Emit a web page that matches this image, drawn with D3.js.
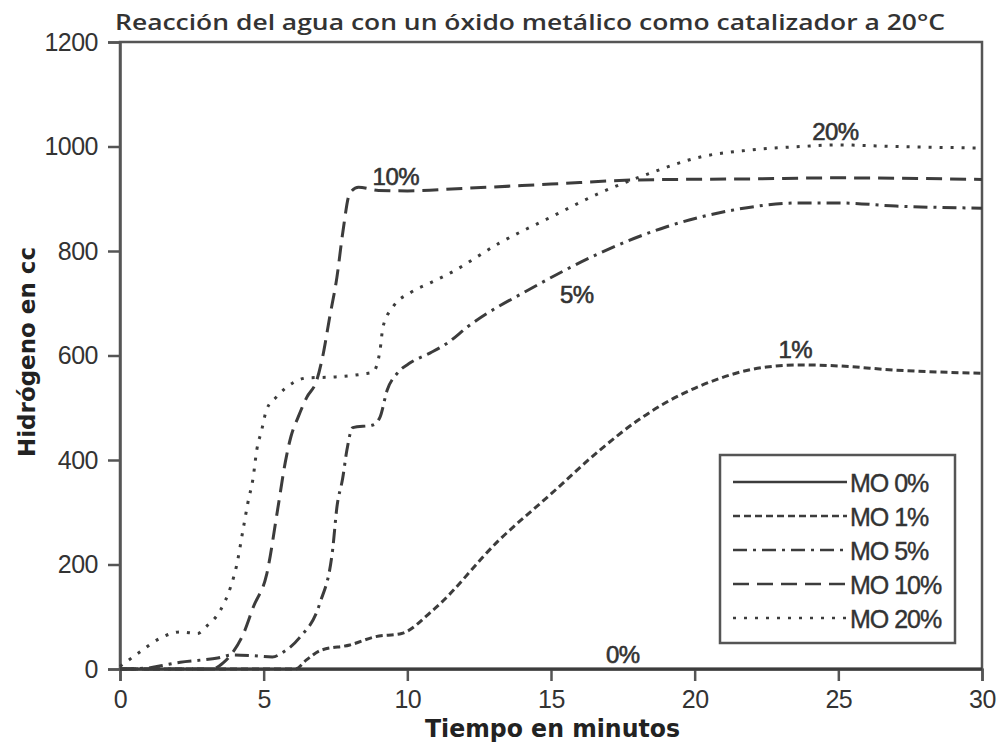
<!DOCTYPE html>
<html>
<head>
<meta charset="utf-8">
<script src="https://cdn.jsdelivr.net/npm/d3@7"></script>
<style>
  body { margin: 0; background: #fff; }
  svg { display: block; }
</style>
</head>
<body>
<div id="chart"></div>
<script>
// tiempo (min) y volumen de hidrógeno (cc)
var mo0 = [[0, 0], [10, 0], [20, 0], [30, 0]];
var mo1 = [[0, 0], [6.1, 0], [6.5, 18], [7, 36], [8, 46], [8.9, 62], [9.8, 68], [10.9, 113],
    [13.2, 247], [15, 335], [16.7, 419], [18, 475], [19, 510], [20.2, 542], [22.5, 578],
    [23.7, 582], [25, 580], [27, 572], [30, 566]];
var mo5 = [[0, 0], [1, 2], [1.5, 7], [2.1, 13], [2.8, 17], [3.4, 21], [3.9, 27], [4.5, 26],
    [5.3, 23], [5.7, 33], [6.25, 60], [6.95, 125], [7.4, 228], [7.55, 310], [7.75, 365],
    [7.9, 420], [8.1, 462], [8.8, 467], [9.05, 482], [9.3, 534], [9.65, 566], [10.1, 586],
    [10.8, 605], [11.4, 624], [12.1, 655], [14.4, 731], [16.7, 796], [19, 846], [21.3, 878],
    [23.7, 892], [25, 892], [27, 886], [30, 882]];
var mo10 = [[0, 0], [3.2, 0], [3.6, 12], [3.9, 30], [4.3, 68], [4.65, 120], [5.1, 180],
    [5.5, 310], [5.75, 395], [5.95, 445], [6.2, 482], [6.5, 520], [6.85, 553], [7.05, 597],
    [7.3, 674], [7.55, 750], [7.75, 834], [8.0, 911], [8.3, 922], [9, 916], [10, 915],
    [12, 920], [15, 928], [18, 936], [22, 938], [25, 940], [30, 937]];
var mo20 = [[0, 5], [0.3, 17], [0.7, 33], [1.4, 59], [2.1, 71], [2.7, 68], [3, 81], [3.5, 113],
    [3.85, 157], [4.05, 196], [4.3, 272], [4.45, 318], [4.63, 365], [4.76, 419], [4.93, 457],
    [5.1, 496], [5.45, 521], [6, 547], [6.5, 557], [7.5, 559], [8.5, 565], [8.8, 568],
    [9.05, 610], [9.15, 654], [9.5, 693], [10.1, 720], [10.8, 739], [11.5, 758], [13.2, 815],
    [15, 865], [16.7, 911], [18.45, 949], [20.2, 980], [21.9, 993], [23.7, 1000], [25, 1003],
    [27, 1000], [30, 997]];

var seriesNames = ['MO 0%', 'MO 1%', 'MO 5%', 'MO 10%', 'MO 20%'];
var curveLabels = ['0%', '1%', '5%', '10%', '20%'];
var labelPos = [[17.5, 11], [23.5, 595], [15.9, 700], [9.6, 926], [24.9, 1012]];
var xTicks = [0, 5, 10, 15, 20, 25, 30];
var yTicks = [0, 200, 400, 600, 800, 1000, 1200];

var series = [mo0, mo1, mo5, mo10, mo20];
var dashes = ['none', '7,4', '14,6,3,6', '16,8', '3,8'];

var W = 998, H = 744;
var margin = { top: 42, right: 16, bottom: 75, left: 120 };
var width = W - margin.left - margin.right;
var height = H - margin.top - margin.bottom;
var ink = '#3c3c3c';

var svg = d3.select('#chart').append('svg')
    .attr('width', W)
    .attr('height', H);

var g = svg.append('g')
    .attr('transform', 'translate(' + margin.left + ',' + margin.top + ')');

var x = d3.scaleLinear().domain([0, 30]).range([0, width]);
var y = d3.scaleLinear().domain([0, 1200]).range([height, 0]);

// marco
g.append('rect')
    .attr('width', width)
    .attr('height', height)
    .style('fill', 'none')
    .style('stroke', '#555')
    .style('stroke-width', 2.5);

var xAxis = g.append('g')
    .attr('transform', 'translate(0,' + height + ')')
    .call(d3.axisBottom(x).tickValues(xTicks).tickFormat(d3.format('d')).tickSize(12).tickPadding(6));

var yAxis = g.append('g')
    .call(d3.axisLeft(y).tickValues(yTicks).tickFormat(d3.format('d')).tickSize(12).tickPadding(10));

[xAxis, yAxis].forEach(function(ax) {
    ax.select('.domain').style('stroke', '#555').style('stroke-width', 2.5);
    ax.selectAll('.tick line').style('stroke', '#555').style('stroke-width', 2.5);
    ax.selectAll('.tick text')
        .style('font-family', '"Liberation Sans", Arial, sans-serif')
        .style('font-size', '25px')
        .style('letter-spacing', '-0.5px')
        .style('fill', '#333');
});
xAxis.selectAll('.tick text').attr('dy', '0.85em');

var line = d3.line()
    .x(function(d) { return x(d[0]); })
    .y(function(d) { return y(d[1]); })
    .curve(d3.curveMonotoneX);

g.selectAll('.serie')
    .data(series)
    .enter()
    .append('path')
    .attr('class', 'serie')
    .attr('d', line)
    .style('fill', 'none')
    .style('stroke', ink)
    .style('stroke-width', 3)
    .style('stroke-dasharray', function(d, i) { return dashes[i]; });

g.selectAll('.etiqueta')
    .data(curveLabels)
    .enter()
    .append('text')
    .attr('class', 'etiqueta')
    .attr('x', function(d, i) { return x(labelPos[i][0]); })
    .attr('y', function(d, i) { return y(labelPos[i][1]); })
    .attr('text-anchor', 'middle')
    .style('font-family', '"Liberation Sans", Arial, sans-serif')
    .style('font-size', '24px')
    .style('letter-spacing', '-0.5px')
    .style('fill', '#333')
    .style('stroke', '#333')
    .style('stroke-width', 0.6)
    .text(function(d) { return d; });

// leyenda
var legend = svg.append('g').attr('transform', 'translate(720,455)');
legend.append('rect')
    .attr('width', 235)
    .attr('height', 188)
    .style('fill', '#fff')
    .style('stroke', '#555')
    .style('stroke-width', 2.5);

var rows = legend.selectAll('.fila')
    .data(seriesNames)
    .enter()
    .append('g')
    .attr('class', 'fila')
    .attr('transform', function(d, i) { return 'translate(0,' + (27 + i * 34) + ')'; });

rows.append('line')
    .attr('x1', 13)
    .attr('x2', 127)
    .style('stroke', ink)
    .style('stroke-width', 2.5)
    .style('stroke-dasharray', function(d, i) { return dashes[i]; });

rows.append('text')
    .attr('x', 130)
    .attr('y', 10)
    .style('font-family', '"Liberation Sans", Arial, sans-serif')
    .style('font-size', '25px')
    .style('letter-spacing', '-1px')
    .style('fill', '#333')
    .style('stroke', '#333')
    .style('stroke-width', 0.4)
    .text(function(d) { return d; });

// títulos
svg.append('text')
    .attr('x', 115)
    .attr('y', 30)
    .attr('textLength', 830)
    .attr('lengthAdjust', 'spacingAndGlyphs')
    .style('font-family', '"Open Sans", "DejaVu Sans", sans-serif')
    .style('font-size', '22px')
    .style('font-weight', 600)
    .style('fill', '#333')
    .text('Reacción del agua con un óxido metálico como catalizador a 20°C');

svg.append('text')
    .attr('x', 425)
    .attr('y', 737)
    .attr('textLength', 255)
    .attr('lengthAdjust', 'spacingAndGlyphs')
    .style('font-family', '"DejaVu Sans", Verdana, sans-serif')
    .style('font-size', '24px')
    .style('font-weight', 'bold')
    .style('fill', '#222')
    .text('Tiempo en minutos');

svg.append('text')
    .attr('transform', 'translate(35,352) rotate(-90)')
    .attr('text-anchor', 'middle')
    .attr('textLength', 210)
    .attr('lengthAdjust', 'spacingAndGlyphs')
    .style('font-family', '"DejaVu Sans", Verdana, sans-serif')
    .style('font-size', '23px')
    .style('font-weight', 'bold')
    .style('fill', '#222')
    .text('Hidrógeno en cc');
</script>
</body>
</html>
